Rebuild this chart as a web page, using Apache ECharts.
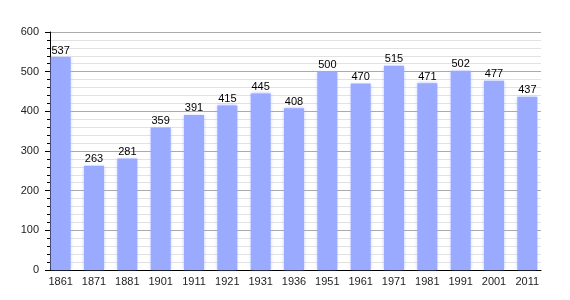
<!DOCTYPE html>
<html>
<head>
<meta charset="utf-8">
<script src="https://cdn.jsdelivr.net/npm/echarts@6/dist/echarts.min.js"></script>
<style>html,body{margin:0;padding:0;background:#fff}#c{width:570px;height:300px}</style>
</head>
<body>
<div id="c"></div>
<script>
var years = ['1861','1871','1881','1901','1911','1921','1931','1936','1951','1961','1971','1981','1991','2001','2011'];
var population = [537,263,281,359,391,415,445,408,500,470,515,471,502,477,437];
var yMin = 0, yMax = 600, yStep = 100;

var chart = echarts.init(document.getElementById('c'), null, {renderer:'canvas'});
var font = {fontFamily:'Liberation Sans, Arial, sans-serif', fontSize:11, color:'#222'};
chart.setOption({
  animation:false,
  backgroundColor:'#fff',
  grid:[
    {left:44, right:26, top:32, bottom:30},
    {left:50, right:29, top:32, bottom:30}
  ],
  xAxis:[
    {type:'category', gridIndex:0, data:years, boundaryGap:true,
     axisLine:{show:false}, axisTick:{show:false},
     axisLabel:Object.assign({margin:6, interval:0}, font)},
    {type:'category', gridIndex:1, data:years,
     axisLine:{show:true, lineStyle:{color:'#000', width:1}}, axisTick:{show:false}, axisLabel:{show:false}}
  ],
  yAxis:[
    {type:'value', gridIndex:0, min:yMin, max:yMax, interval:yStep, show:false, splitLine:{show:false}},
    {type:'value', gridIndex:1, min:yMin, max:yMax, interval:yStep,
     axisLine:{show:true, lineStyle:{color:'#000', width:1}},
     axisTick:{show:true, length:5, lineStyle:{color:'#000'}},
     minorTick:{show:true, splitNumber:5, length:3, lineStyle:{color:'#000'}},
     splitLine:{show:true, lineStyle:{color:'#aaa', width:1}},
     minorSplitLine:{show:true, lineStyle:{color:'#e2e2e2', width:1}},
     axisLabel:Object.assign({margin:11}, font)}
  ],
  series:[{
    type:'bar', xAxisIndex:0, yAxisIndex:0, data:population, barWidth:20,
    itemStyle:{color:'#99aaff', shadowColor:'rgba(153,170,255,0.7)', shadowBlur:3},
    label:{show:true, position:'top', distance:1, fontFamily:'Liberation Sans, Arial, sans-serif', fontSize:11, color:'#000'}
  }]
});
</script>
</body>
</html>
